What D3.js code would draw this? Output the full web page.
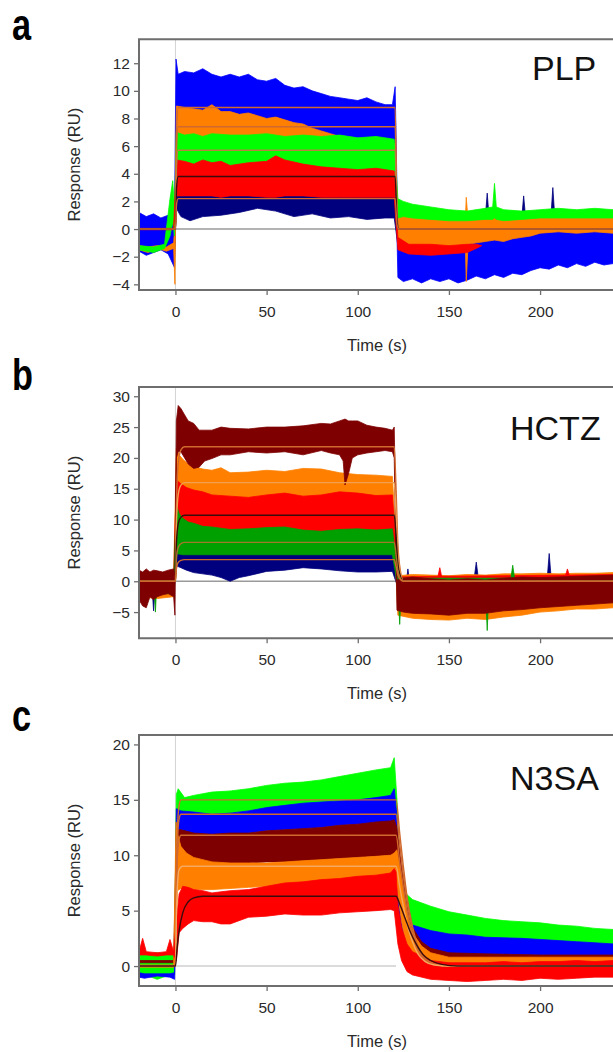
<!DOCTYPE html>
<html>
<head>
<meta charset="utf-8">
<script src="https://cdn.jsdelivr.net/npm/d3@7"></script>
<style>
  body { margin: 0; background: #fff; }
  svg { display: block; }
  text { font-family: "Liberation Sans", Arial, sans-serif; }
</style>
</head>
<body>
<svg id="chart" width="613" height="1052"></svg>
<script>
// ---- data: [time (s), band low (RU), band high (RU)] ----
const timeTicks = [0, 50, 100, 150, 200];

// a - PLP
const plpTicks = [-4, -2, 0, 2, 4, 6, 8, 10, 12];
const plpNavy = [
  [-20, -1.0, 0.6], [-12, -1.3, 0.5], [-5, -1.0, 0.6], [-0.5, -2.0, 0.8],
  [0.5, 1.5, 3.3], [3, 0.9, 3.3], [8, 0.6, 3.3], [15, 0.9, 3.3], [25, 1.0, 3.3], [35, 1.2, 3.3],
  [45, 1.5, 3.3], [55, 1.3, 3.3], [65, 0.9, 3.3], [75, 1.1, 3.3], [85, 0.8, 3.3], [95, 0.9, 3.2],
  [105, 0.7, 3.2], [115, 0.8, 3.2], [120, 0.8, 3.2],
  [122, -1.2, 0.5], [130, -0.8, 0.8], [150, -0.8, 0.8], [170, -0.6, 0.9], [171, -0.6, 2.6], [172, -0.6, 0.9],
  [190, -0.4, 0.9], [191, -0.4, 2.4], [192, -0.4, 0.9], [206, -0.3, 1.0], [207, -0.3, 3.0], [208, -0.3, 1.0],
  [240, -0.3, 1.0]
];
const plpBlue = [
  [-20, -1.6, 1.2], [-16, -1.9, 0.9], [-12, -1.7, 1.1], [-8, -1.5, 0.8], [-4, -1.8, 1.0], [-0.5, -2.8, 1.0],
  [0.3, 7.5, 12.3], [1.5, 8.0, 11.2], [5, 8.2, 11.4], [10, 8.2, 11.3], [15, 8.0, 11.6], [20, 8.0, 11.2],
  [25, 8.0, 11.0], [30, 8.0, 11.2], [35, 7.9, 11.0], [40, 7.8, 11.2], [45, 7.7, 10.8], [50, 7.6, 10.7],
  [55, 7.5, 10.9], [60, 7.5, 10.4], [65, 7.3, 10.2], [70, 7.2, 10.3], [75, 7.0, 10.0], [80, 7.0, 9.8],
  [85, 6.8, 9.6], [90, 6.7, 9.5], [95, 6.6, 9.4], [100, 6.5, 9.3], [105, 6.4, 9.5], [110, 6.4, 9.2],
  [115, 6.3, 9.0], [119, 6.3, 9.0], [120.5, 6.0, 10.3],
  [122, -3.5, -0.6], [125, -3.8, -1.0], [130, -3.6, -1.0], [135, -3.9, -1.0], [140, -3.6, -1.2],
  [145, -3.8, -0.9], [150, -3.6, -1.1], [155, -3.9, -1.0], [160, -3.7, -0.9], [165, -3.4, -0.8],
  [170, -3.6, -0.8], [175, -3.3, -0.6], [180, -3.5, -0.7], [185, -3.2, -0.6], [190, -3.3, -0.5],
  [195, -3.0, -0.3], [200, -2.8, 0.0], [205, -2.9, 0.2], [210, -2.6, 0.1], [215, -2.8, 0.0],
  [220, -2.5, 0.2], [225, -2.7, 0.1], [230, -2.4, 0.2], [235, -2.6, 0.0], [240, -2.5, 0.1]
];
const plpOrange = [
  [-20, -1.5, -1.2], [-15, -1.7, -1.3], [-10, -1.4, -1.2], [-5, -1.6, -1.3], [-1, -1.4, -1.0], [-0.3, -4.0, 0.3],
  [0.5, 5.8, 8.9], [5, 5.8, 8.8], [10, 5.8, 8.7], [15, 5.8, 8.6], [20, 5.8, 9.0], [25, 5.8, 8.5],
  [30, 5.8, 8.5], [35, 5.8, 8.3], [40, 5.8, 8.4], [45, 5.8, 8.2], [50, 5.8, 8.0], [55, 5.8, 8.1],
  [60, 5.8, 7.9], [65, 5.8, 7.7], [70, 5.8, 7.6], [75, 5.8, 7.3], [80, 5.8, 7.1], [85, 5.8, 6.9],
  [90, 5.8, 6.7], [100, 5.7, 6.4], [110, 5.7, 6.2], [120, 5.6, 6.2],
  [122, -1.1, 0.9], [125, -1.2, 1.0], [130, -1.2, 0.9], [135, -1.3, 0.8], [140, -1.3, 0.8], [145, -1.3, 0.7],
  [150, -1.2, 0.7], [155, -1.3, 0.7], [159, -1.2, 0.7], [159.5, -3.8, 2.3], [160.5, -1.1, 0.7],
  [165, -1.0, 0.7], [170, -0.9, 0.8], [175, -0.8, 0.8], [180, -0.9, 0.7], [185, -0.7, 0.8], [190, -0.6, 0.9],
  [195, -0.5, 0.9], [200, -0.3, 1.0], [210, -0.2, 1.0], [220, -0.3, 1.0], [230, -0.2, 1.0], [240, -0.3, 1.0]
];
const plpGreen = [
  [-20, -1.5, -1.2], [-12, -1.7, -1.3], [-6, -1.4, -1.1], [-3, -0.5, 2.2], [-1.5, 0.5, 3.5], [-0.5, -0.5, 1.5],
  [0.5, 4.6, 7.0], [5, 4.6, 6.8], [10, 4.5, 6.9], [15, 4.6, 6.7], [20, 4.5, 6.9], [30, 4.6, 6.8],
  [40, 4.5, 6.8], [50, 4.4, 6.9], [60, 4.6, 6.7], [70, 4.5, 6.8], [80, 4.4, 6.7], [90, 4.3, 6.8],
  [100, 4.2, 6.6], [110, 4.2, 6.7], [120, 4.2, 6.5],
  [122, 0.8, 2.2], [125, 0.9, 2.0], [130, 0.8, 1.8], [140, 0.7, 1.6], [150, 0.6, 1.4], [160, 0.6, 1.3],
  [170, 0.7, 1.5], [174, 0.7, 1.6], [175, 0.8, 3.3], [176, 0.7, 1.6], [180, 0.6, 1.4], [190, 0.7, 1.3],
  [200, 0.8, 1.4], [210, 0.8, 1.5], [220, 0.8, 1.4], [230, 0.8, 1.5], [240, 0.8, 1.4]
];
const plpRed = [
  [-20, -0.05, 0.05], [-1, -0.05, 0.05],
  [0.5, 2.4, 5.0], [5, 2.4, 4.9], [10, 2.4, 4.7], [15, 2.4, 5.0], [20, 2.4, 4.8], [25, 2.3, 4.9],
  [30, 2.4, 4.6], [40, 2.4, 4.8], [50, 2.3, 4.9], [55, 2.3, 5.3], [60, 2.4, 5.0], [70, 2.4, 4.7],
  [80, 2.3, 4.5], [90, 2.3, 4.4], [100, 2.3, 4.3], [110, 2.3, 4.4], [120, 2.3, 4.2],
  [122, -1.5, -0.6], [128, -1.8, -1.1], [140, -1.9, -1.1], [150, -1.8, -1.2], [160, -1.7, -1.1],
  [165, -1.4, -1.1], [168, -1.2, -1.2]
];
const plpFit1 = [[-20, 0], [0, 0], [0.6, 7.0], [1.5, 8.8], [120.5, 8.8], [121.5, 1.3], [122.5, 0], [240, 0]];
const plpFit2 = [[-20, 0], [0, 0], [0.6, 5.9], [1.5, 7.4], [120.5, 7.4], [121.5, 1.1], [122.5, 0], [240, 0]];
const plpFit3 = [[-20, 0], [0, 0], [0.6, 4.6], [1.5, 5.7], [120.5, 5.7], [121.5, 0.9], [122.5, 0], [240, 0]];
const plpFit4 = [[-20, 0], [0, 0], [0.6, 3.0], [1.5, 3.8], [120.5, 3.8], [121.5, 0.6], [122.5, 0], [240, 0]];
const plpFit5 = [[-20, 0], [0, 0], [0.6, 1.8], [1.5, 2.2], [120.5, 2.2], [121.5, 0.3], [122.5, 0], [240, 0]];

// b - HCTZ
const hctzTicks = [-5, 0, 5, 10, 15, 20, 25, 30];
const hctzNavy = [
  [-20, -2.0, 1.0], [-15, -2.5, 0.8], [-12.5, -2.5, 0.8], [-12, -4.8, 0.8], [-11.5, -2.5, 0.8],
  [-6, -2.0, 1.0], [-1, -2.2, 0.8],
  [0.5, 2.5, 6.5], [3, 2.2, 5.5], [6, 1.8, 5.5], [10, 1.4, 5.5], [15, 1.2, 5.5], [20, 1.0, 5.5],
  [25, 0.6, 5.5], [30, 0.0, 5.5], [35, 0.6, 5.5], [40, 0.9, 5.5], [50, 1.6, 5.5], [60, 1.8, 5.5],
  [70, 2.2, 5.5], [80, 2.0, 5.5], [90, 1.7, 5.5], [100, 1.5, 5.5], [110, 1.5, 5.5], [119, 1.6, 5.5],
  [122, -1, 0.8], [127, -1, 0.8], [127.5, -1, 2.0], [128, -1, 0.8], [164, -1, 0.8], [165, -1, 3.1], [166, -1, 0.8],
  [204, -1, 0.8], [205, -1, 4.5], [206, -1, 0.8], [240, -1, 0.8]
];
const hctzOrange = [
  [-20, -2.5, 0.8], [-10, -2.8, 0.6], [-1, -2.5, 0.8],
  [0.5, 12, 21.5], [2, 13, 20.5], [4, 13, 19.8], [7, 13, 19.0], [10, 13, 18.6], [15, 13, 18.2],
  [20, 13, 18.0], [25, 13, 18.4], [30, 13, 17.6], [40, 13, 17.7], [50, 13, 18.0], [60, 13, 17.8],
  [70, 13, 18.3], [80, 13, 18.2], [90, 13, 17.6], [100, 13, 17.3], [110, 13, 17.2], [119, 13, 17.0],
  [122, -5.5, 0.9], [130, -6.0, 1.1], [140, -6.2, 1.0], [150, -6.3, 0.9], [160, -6.0, 1.1], [170, -6.2, 1.0],
  [180, -5.8, 1.2], [190, -5.5, 1.2], [200, -5.0, 1.3], [210, -4.8, 1.2], [220, -4.5, 1.3], [230, -4.5, 1.3],
  [240, -4.3, 1.4]
];
const hctzRed = [
  [-20, -1.5, 0.5], [-1, -1.5, 0.5],
  [0.5, 8, 16.4], [3, 7.8, 15.8], [6, 7.6, 15.2], [10, 7.5, 14.8], [15, 7.5, 14.5], [20, 7.5, 14.0],
  [30, 7.5, 13.8], [40, 7.5, 13.6], [50, 7.5, 14.0], [60, 7.5, 14.3], [70, 7.5, 13.8], [80, 7.5, 14.0],
  [90, 7.5, 14.5], [100, 7.5, 14.3], [110, 7.5, 13.9], [119, 7.5, 14.0],
  [122, -1, 0.7], [144, -1, 0.8], [145, -1, 2.2], [146, -1, 0.8], [180, -1, 0.9], [214, -1, 1.0],
  [215, -1, 2.0], [216, -1, 1.0], [240, -1, 1.1]
];
const hctzGreen = [
  [-20, -2, 0], [-11.5, -2, 0], [-11, -5, 0], [-10.5, -2, 0], [-1, -2, 0],
  [0.5, 4.5, 12.3], [2, 4.4, 11.0], [4, 4.3, 10.2], [7, 4.3, 9.6], [10, 4.3, 9.4], [15, 4.3, 8.9],
  [20, 4.3, 8.8], [30, 4.3, 8.4], [40, 4.3, 8.5], [50, 4.3, 8.7], [60, 4.3, 8.8], [70, 4.3, 8.3],
  [80, 4.3, 8.1], [90, 4.3, 8.4], [100, 4.3, 8.5], [110, 4.3, 8.3], [119, 4.3, 8.5],
  [122, -1, 0.5], [123, -7, 0.5], [124, -1, 0.5], [170, -1, 0.5], [171, -8, 0.5], [172, -1, 0.5],
  [184, -1, 0.5], [185, -1, 2.6], [186, -1, 0.5], [240, -1, 0.5]
];
const hctzMaroon = [
  [-20, -3.0, 1.8], [-18, -4.0, 1.5], [-16, -4.3, 2.0], [-14, -2.5, 1.5], [-12, -3.0, 1.8], [-10, -2.5, 1.7],
  [-7, -2.2, 1.5], [-4, -2.0, 1.8], [-1, -2.5, 2.0], [-0.3, -5.5, 1.0],
  [0.5, 20, 26], [1.5, 21, 28.5], [3, 21, 28.0], [5, 20, 27.0], [7, 19, 26.0], [10, 18.3, 25.6],
  [13, 18.5, 24.5], [16, 19.5, 24.5], [20, 19.9, 24.5], [25, 20.5, 25.0], [30, 20.5, 24.8], [40, 21.0, 24.7],
  [50, 20.8, 25.0], [60, 21.0, 25.0], [70, 20.5, 25.2], [80, 21.2, 25.6], [85, 20.8, 25.5], [90, 20.5, 26.0],
  [92, 19.5, 26.2], [93, 15.6, 26.3], [95, 17.5, 26.0], [97, 20, 26.0], [100, 20.5, 26.0], [105, 20.8, 25.3],
  [110, 21.0, 25.0], [115, 21.2, 24.8], [119, 21.0, 24.5], [120, 20, 25],
  [121.5, -4.7, 0.2], [125, -5.0, 0.5], [130, -5.2, 0.7], [140, -5.3, 0.4], [150, -5.5, 0.2], [160, -5.2, 0.4],
  [170, -5.2, 0.2], [180, -4.8, 0.5], [190, -4.6, 0.7], [200, -4.3, 0.6], [210, -4.1, 0.7], [220, -3.9, 0.8],
  [230, -3.7, 0.9], [240, -3.5, 1.0]
];
const hctzFit1 = [[-20, 0], [0, 0], [0.5, 12], [1.5, 19], [3, 21.3], [5, 21.8], [120, 21.8], [121, 15], [122, 6], [123.5, 1.5], [125, 0], [240, 0]];
const hctzFit2 = [[-20, 0], [0, 0], [0.5, 9], [1.5, 14], [3, 15.6], [5, 16], [120, 16], [121, 11], [122, 4.4], [123.5, 1.1], [125, 0], [240, 0]];
const hctzFit3 = [[-20, 0], [0, 0], [0.5, 6], [1.5, 9.3], [3, 10.4], [5, 10.7], [120, 10.7], [121, 7.4], [122, 2.9], [123.5, 0.7], [125, 0], [240, 0]];
const hctzFit4 = [[-20, 0], [0, 0], [0.5, 3.5], [1.5, 5.5], [3, 6.1], [5, 6.3], [120, 6.3], [121, 4.3], [122, 1.7], [123.5, 0.4], [125, 0], [240, 0]];
const hctzFit5 = [[-20, 0], [0, 0], [0.5, 2], [1.5, 3.05], [3, 3.4], [5, 3.5], [120, 3.5], [121, 2.4], [122, 1], [123.5, 0.25], [125, 0], [240, 0]];

// c - N3SA
const n3saTicks = [0, 5, 10, 15, 20];
const n3saGreen = [
  [-20, -0.8, 1.0], [-15, -0.9, 1.1], [-10, -1.2, 1.2], [-5, -0.9, 1.0], [-0.5, -0.8, 1.2],
  [0.5, 13.5, 15.5], [1.5, 13.5, 16.0], [5, 13.5, 15.2], [10, 13.5, 15.4], [20, 13.7, 15.7], [30, 13.8, 15.8],
  [40, 14.0, 16.0], [50, 14.2, 16.3], [60, 14.3, 16.5], [70, 14.5, 16.6], [80, 14.6, 16.8], [90, 14.8, 17.1],
  [100, 14.9, 17.4], [110, 15.1, 17.7], [118, 15.3, 17.9], [120, 15.3, 18.8],
  [121.5, 7, 15], [123, 4.5, 7.5], [126, 4.0, 6.6], [130, 3.5, 6.0], [140, 3.0, 5.4], [150, 2.7, 4.9],
  [160, 2.6, 4.6], [170, 2.4, 4.3], [180, 2.3, 4.1], [190, 2.3, 4.0], [200, 2.2, 3.9], [210, 2.1, 3.7],
  [220, 2.0, 3.6], [230, 1.9, 3.4], [240, 1.8, 3.3]
];
const n3saBlue = [
  [-20, -1.0, -0.6], [-17, -1.1, -0.7], [-10, -0.9, -0.7], [-3, -1.0, -0.7], [-0.5, -1.2, -0.6],
  [0.5, 11.5, 14.2], [3, 12.0, 14.0], [10, 12.0, 13.9], [20, 11.9, 13.7], [30, 12.0, 13.8], [40, 12.0, 14.0],
  [50, 12.2, 14.3], [60, 12.3, 14.5], [70, 12.4, 14.7], [80, 12.5, 14.8], [90, 12.7, 14.9], [100, 12.8, 15.0],
  [110, 12.9, 15.2], [118, 13.0, 15.4], [120, 13, 16.0],
  [121.5, 5, 13.5], [123, 3.0, 5.0], [126, 1.8, 4.2], [130, 1.2, 3.7], [140, 0.8, 3.2], [150, 0.6, 2.9],
  [160, 0.6, 2.8], [170, 0.6, 2.6], [180, 0.6, 2.55], [190, 0.6, 2.5], [200, 0.6, 2.4], [210, 0.6, 2.3],
  [220, 0.5, 2.2], [230, 0.5, 2.1], [240, 0.5, 2.0]
];
const n3saMaroon = [
  [-20, 0.3, 0.5], [-10, 0.3, 0.5], [-1, 0.3, 0.5],
  [0.5, 9.0, 12.3], [3, 9.3, 12.3], [10, 9.2, 12.0], [20, 9.1, 11.9], [30, 9.2, 12.0], [40, 9.3, 12.0],
  [50, 9.4, 12.2], [60, 9.4, 12.3], [70, 9.5, 12.4], [80, 9.6, 12.5], [90, 9.7, 12.7], [100, 9.8, 12.8],
  [110, 9.9, 13.0], [118, 10.0, 13.1], [120, 10, 13.2],
  [121.5, 9, 12.5], [124, 5, 9], [127, 2, 6], [130, 0.8, 3.5], [135, 0.0, 2.2], [140, -0.3, 1.6],
  [150, -0.3, 1.2], [170, -0.3, 1.1], [200, -0.2, 1.0], [240, -0.2, 1.0]
];
const n3saOrange = [
  [-20, -0.1, 0.1], [-10, -0.1, 0.1], [-1, -0.1, 0.1],
  [0.3, 0.5, 13], [1, 6.8, 12], [3, 7.0, 10.8], [6, 7.0, 10.2], [10, 6.9, 9.8], [20, 6.9, 9.4],
  [30, 7.0, 9.3], [40, 7.1, 9.3], [50, 7.2, 9.3], [60, 7.2, 9.4], [70, 7.3, 9.5], [80, 7.4, 9.6],
  [90, 7.5, 9.7], [100, 7.5, 9.8], [110, 7.7, 9.9], [118, 7.8, 10.0], [120, 7.8, 10.2],
  [121.5, 7.0, 10.5], [124, 4.0, 8.0], [127, 1.5, 5.0], [130, 0.3, 3.0], [135, -0.3, 1.8], [140, -0.5, 1.2],
  [150, -0.5, 0.8], [170, -0.5, 0.8], [200, -0.5, 0.8], [240, -0.5, 0.8]
];
const n3saRed = [
  [-20, 1.0, 1.3], [-18, 1.0, 2.5], [-16, 1.0, 1.3], [-10, 0.9, 1.2], [-5, 1.0, 1.3], [-3, 1.0, 2.4], [-1, 1.0, 1.3],
  [0.5, 0.5, 4.0], [2, 3.0, 6.5], [4, 3.4, 7.2], [7, 3.8, 7.1], [10, 4.1, 6.9], [15, 4.0, 6.8], [20, 4.0, 6.6],
  [25, 3.8, 6.7], [30, 3.8, 6.8], [40, 4.4, 6.9], [50, 4.5, 7.2], [60, 4.7, 7.5], [70, 4.6, 7.6], [80, 4.6, 7.8],
  [90, 4.8, 7.9], [100, 4.9, 8.1], [110, 5.0, 8.2], [118, 5.1, 8.4], [120, 5.0, 8.8],
  [121, 3.5, 8.5], [122, 2.0, 5.5], [124, 0.5, 3.5], [127, -0.5, 2.0], [130, -0.8, 1.3], [140, -1.2, 0.5],
  [150, -1.3, 0.3], [160, -1.4, 0.3], [170, -1.3, 0.3], [180, -1.2, 0.4], [190, -1.3, 0.3], [200, -1.1, 0.4],
  [210, -1.2, 0.4], [220, -1.1, 0.5], [230, -1.0, 0.4], [240, -1.0, 0.5]
];
const n3saFit1 = [[-20, 0], [0, 0], [0.5, 8], [1, 12], [2, 14.5], [3, 15], [121, 15], [123, 12], [125, 9], [127, 6.3], [130, 3.6], [133, 1.8], [137, 0.7], [142, 0.2], [150, 0], [240, 0]];
const n3saFit2 = [[-20, 0], [0, 0], [0.5, 7], [1, 11], [2, 13.3], [3, 13.7], [121, 13.7], [123, 11], [125, 8.2], [127, 5.8], [130, 3.3], [133, 1.6], [137, 0.6], [142, 0.2], [150, 0], [240, 0]];
const n3saFit3 = [[-20, 0], [0, 0], [0.5, 6], [1, 9.5], [2, 11.4], [3, 11.8], [121, 11.8], [123, 9.4], [125, 7.1], [127, 5.0], [130, 2.8], [133, 1.4], [137, 0.5], [142, 0.15], [150, 0], [240, 0]];
const n3saFit4 = [[-20, 0], [0, 0], [0.5, 4.5], [1, 7], [2, 8.7], [4, 9.0], [121, 9.0], [123, 7.2], [125, 5.4], [127, 3.8], [130, 2.2], [133, 1.1], [137, 0.4], [142, 0.1], [150, 0], [240, 0]];
const n3saFit5 = [[-20, 0], [0, 0], [1, 1.8], [2, 3.2], [4, 4.8], [7, 5.8], [10, 6.15], [15, 6.3], [121, 6.3], [123, 5.6], [126, 4.3], [129, 3.0], [132, 2.0], [136, 1.0], [140, 0.5], [146, 0.15], [155, 0], [240, 0]];

// ---- colours ----
const cNavy = "#00007f", cBlue = "#0000ff", cOrange = "#ff8000", cLime = "#00ff00",
      cRed = "#ff0000", cMaroon = "#7f0000", cGreen = "#00a000";
const cFit = "#d0692e", cFitDark = "#3a0c0c";

const panels = [
  { letter: "a", name: "PLP", top: 39.3, bottom: 290, yDomain: [-4.41, 13.73], yTicks: plpTicks,
    nameX: 532, nameY: 80, letterY: 40,
    bands: [[plpNavy, cNavy], [plpBlue, cBlue], [plpOrange, cOrange], [plpGreen, cLime], [plpRed, cRed]],
    fits: [[plpFit1, cFit], [plpFit2, cFit], [plpFit3, "#b98040"], [plpFit4, cFitDark], [plpFit5, cFit]],
    zeroColor: "#9a9a9a" },
  { letter: "b", name: "HCTZ", top: 387, bottom: 638.3, yDomain: [-9.25, 31.5], yTicks: hctzTicks,
    nameX: 510, nameY: 440, letterY: 390,
    bands: [[hctzNavy, cNavy], [hctzOrange, cOrange], [hctzRed, cRed], [hctzGreen, cGreen], [hctzMaroon, cMaroon]],
    fits: [[hctzFit1, cFit], [hctzFit2, "#f0a050"], [hctzFit3, cFitDark], [hctzFit4, "#a0782a"], [hctzFit5, cFit]],
    zeroColor: "#9a9a9a" },
  { letter: "c", name: "N3SA", top: 735, bottom: 986, yDomain: [-1.8, 20.85], yTicks: n3saTicks,
    nameX: 510, nameY: 790, letterY: 731,
    bands: [[n3saGreen, cLime], [n3saBlue, cBlue], [n3saMaroon, cMaroon], [n3saOrange, cOrange], [n3saRed, cRed]],
    fits: [[n3saFit1, cFit], [n3saFit2, cFit], [n3saFit3, cFit], [n3saFit4, "#f5a860"], [n3saFit5, cFitDark]],
    zeroColor: "#cfcfcf" }
];

const svg = d3.select("#chart");
svg.append("rect").attr("width", 613).attr("height", 1052).attr("fill", "#fff");

const left = 139, right = 613;
const x = d3.scaleLinear().domain([-20, 240]).range([left, right]);

panels.forEach((p, i) => {
  const y = d3.scaleLinear().domain(p.yDomain).range([p.bottom, p.top]);
  const g = svg.append("g");

  const clipId = "clip-" + i;
  svg.append("clipPath").attr("id", clipId)
    .append("rect")
    .attr("x", left).attr("y", p.top)
    .attr("width", right - left).attr("height", p.bottom - p.top);

  const plot = g.append("g").attr("clip-path", "url(#" + clipId + ")");

  // reference lines under the traces
  plot.append("line")
    .attr("x1", x(0)).attr("x2", x(0))
    .attr("y1", p.top).attr("y2", p.bottom)
    .attr("stroke", "#d4d4d4").attr("stroke-width", 1);
  plot.append("line")
    .attr("x1", x(0)).attr("x2", x(121))
    .attr("y1", y(0)).attr("y2", y(0))
    .attr("stroke", p.zeroColor).attr("stroke-width", 1.5);

  // noisy replicate traces, drawn as envelopes
  const area = d3.area()
    .x(d => x(d[0]))
    .y0(d => y(d[1]))
    .y1(d => y(d[2]));
  p.bands.forEach(([data, color]) => {
    plot.append("path")
      .datum(data)
      .attr("d", area)
      .attr("fill", color)
      .attr("stroke", color)
      .attr("stroke-width", 0.8)
      .attr("stroke-linejoin", "round");
  });

  // kinetic fits
  const line = d3.line()
    .x(d => x(d[0]))
    .y(d => y(d[1]))
    .curve(d3.curveMonotoneX);
  p.fits.forEach(([data, color]) => {
    plot.append("path")
      .datum(data)
      .attr("d", line)
      .attr("fill", "none")
      .attr("stroke", color)
      .attr("stroke-width", 1.4);
  });

  // axes
  const yAxis = d3.axisLeft(y).tickValues(p.yTicks).tickSize(5).tickPadding(4);
  const xAxis = d3.axisBottom(x).tickValues(timeTicks).tickSize(5).tickPadding(11);

  const ya = g.append("g").attr("transform", `translate(${left},0)`).call(yAxis);
  const xa = g.append("g").attr("transform", `translate(0,${p.bottom})`).call(xAxis);
  [ya, xa].forEach(a => {
    a.select(".domain").remove();
    a.selectAll(".tick line").attr("stroke", "#6e6e6e").attr("stroke-width", 1.3);
    a.selectAll(".tick text")
      .attr("fill", "#2a2a2a")
      .style("font-size", "15.5px")
      .style("font-family", "'Liberation Sans', Arial, sans-serif");
  });

  // frame
  g.append("path")
    .attr("d", `M${right + 2},${p.top} H${left} V${p.bottom} H${right + 2}`)
    .attr("fill", "none")
    .attr("stroke", "#6e6e6e")
    .attr("stroke-width", 2);

  // titles
  g.append("text")
    .attr("transform", `translate(80,${(p.top + p.bottom) / 2}) rotate(-90)`)
    .attr("text-anchor", "middle")
    .attr("fill", "#2a2a2a")
    .style("font-size", "16.5px")
    .text("Response (RU)");
  g.append("text")
    .attr("x", 377).attr("y", p.bottom + 61)
    .attr("text-anchor", "middle")
    .attr("fill", "#2a2a2a")
    .style("font-size", "16.5px")
    .text("Time (s)");

  g.append("text")
    .attr("x", p.nameX).attr("y", p.nameY)
    .attr("fill", "#111")
    .style("font-size", "34px")
    .text(p.name);

  g.append("text")
    .attr("transform", `translate(12,${p.letterY}) scale(0.78,1)`)
    .attr("fill", "#000")
    .style("font-size", "44px")
    .style("font-weight", "bold")
    .text(p.letter);
});
</script>
</body>
</html>
